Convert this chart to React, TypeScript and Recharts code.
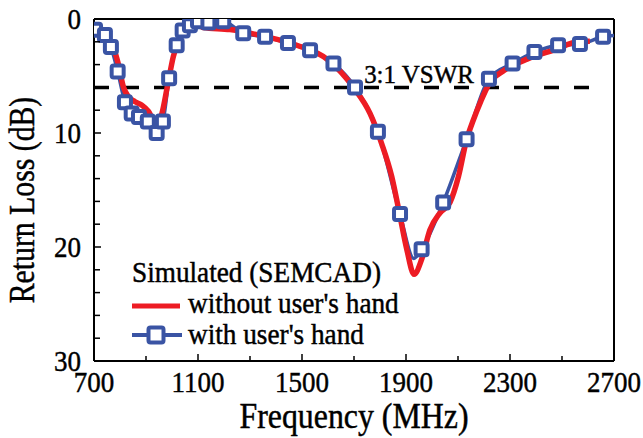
import React from "react";
import {
  ComposedChart,
  Line,
  XAxis,
  YAxis,
  ReferenceLine,
  ReferenceDot,
} from "recharts";

const RED = "#ED1C24";
const BLUE = "#3A54A4";
const FONT = "'Liberation Serif', 'Times New Roman', Times, serif";

// frequency axis (MHz)
const freqTicks = [700, 900, 1100, 1300, 1500, 1700, 1900, 2100, 2300, 2500, 2700];
// return loss axis (dB), drawn downward
const lossTicks = [0, 2, 4, 6, 8, 10, 12, 14, 16, 18, 20, 22, 24, 26, 28, 30];

const vswrLimit = 6;

// simulated without the hand
const withoutHand = [
  { freq: 700, loss: 0.8 },
  { freq: 742, loss: 1.28 },
  { freq: 774, loss: 2.45 },
  { freq: 793, loss: 3.9 },
  { freq: 813, loss: 5.95 },
  { freq: 832, loss: 6.8 },
  { freq: 858, loss: 7.26 },
  { freq: 883, loss: 7.55 },
  { freq: 909, loss: 8.1 },
  { freq: 941, loss: 9.3 },
  { freq: 960, loss: 8.4 },
  { freq: 982, loss: 5.95 },
  { freq: 1005, loss: 3.3 },
  { freq: 1031, loss: 1.57 },
  { freq: 1063, loss: 0.7 },
  { freq: 1101, loss: 0.46 },
  { freq: 1120, loss: 0.75 },
  { freq: 1223, loss: 0.93 },
  { freq: 1351, loss: 1.5 },
  { freq: 1480, loss: 2.3 },
  { freq: 1601, loss: 3.6 },
  { freq: 1698, loss: 6.0 },
  { freq: 1762, loss: 8.3 },
  { freq: 1806, loss: 10.9 },
  { freq: 1845, loss: 13.8 },
  { freq: 1877, loss: 17.3 },
  { freq: 1903, loss: 20.2 },
  { freq: 1931, loss: 22.4 },
  { freq: 1960, loss: 21.1 },
  { freq: 1992, loss: 18.5 },
  { freq: 2031, loss: 17.0 },
  { freq: 2069, loss: 16.1 },
  { freq: 2102, loss: 13.8 },
  { freq: 2133, loss: 10.6 },
  { freq: 2159, loss: 8.86 },
  { freq: 2188, loss: 7.2 },
  { freq: 2219, loss: 5.7 },
  { freq: 2278, loss: 4.5 },
  { freq: 2368, loss: 3.5 },
  { freq: 2471, loss: 2.7 },
  { freq: 2561, loss: 2.0 },
  { freq: 2607, loss: 1.95 },
];

// simulated with the hand: sample points shown as squares
const withHandMarkers = [
  { freq: 704, loss: 0.95 },
  { freq: 742, loss: 1.4 },
  { freq: 765, loss: 2.45 },
  { freq: 791, loss: 4.6 },
  { freq: 819, loss: 7.3 },
  { freq: 845, loss: 8.3 },
  { freq: 873, loss: 8.6 },
  { freq: 907, loss: 9.0 },
  { freq: 941, loss: 10.0 },
  { freq: 965, loss: 9.0 },
  { freq: 989, loss: 5.2 },
  { freq: 1018, loss: 2.3 },
  { freq: 1041, loss: 1.0 },
  { freq: 1069, loss: 0.55 },
  { freq: 1100, loss: 0.2 },
  { freq: 1140, loss: 0.3 },
  { freq: 1197, loss: 0.2 },
  { freq: 1274, loss: 1.25 },
  { freq: 1358, loss: 1.55 },
  { freq: 1446, loss: 2.1 },
  { freq: 1531, loss: 2.75 },
  { freq: 1621, loss: 3.9 },
  { freq: 1704, loss: 6.0 },
  { freq: 1792, loss: 9.9 },
  { freq: 1877, loss: 17.1 },
  { freq: 1960, loss: 20.2 },
  { freq: 2043, loss: 16.1 },
  { freq: 2133, loss: 10.55 },
  { freq: 2219, loss: 5.25 },
  { freq: 2310, loss: 3.9 },
  { freq: 2394, loss: 2.9 },
  { freq: 2485, loss: 2.3 },
  { freq: 2569, loss: 2.2 },
  { freq: 2658, loss: 1.55 },
];

// the with-hand curve between and beyond the squares
const withHandExtra = [
  { freq: 1930, loss: 21.0 },
  { freq: 2700, loss: 1.45 },
];

const withHandCurve = [...withHandMarkers, ...withHandExtra].sort(
  (a, b) => a.freq - b.freq
);

function Serif({ x, y, size, sx = 0.9, anchor = "start", rotate = false, children }: any) {
  return (
    <text
      transform={`translate(${x},${y})${rotate ? " rotate(-90)" : ""} scale(${sx},1)`}
      fontFamily={FONT}
      fontSize={size}
      textAnchor={anchor}
      fill="#000"
      stroke="#000"
      strokeWidth={0.45}
    >
      {children}
    </text>
  );
}

function FreqTick({ x, y, payload }: any) {
  const v = payload.value;
  const major = (v - 700) % 400 === 0;
  return (
    <g>
      <line x1={x} x2={x} y1={y} y2={y - (major ? 7 : 5)} stroke="#000" strokeWidth={1.5} />
      {major && (
        <Serif x={x} y={y + 31} size={30} anchor="middle">
          {v}
        </Serif>
      )}
    </g>
  );
}

function LossTick({ x, y, payload }: any) {
  const v = payload.value;
  const major = v % 10 === 0;
  return (
    <g>
      <line x1={x} x2={x + (major ? 7 : 6)} y1={y} y2={y} stroke="#000" strokeWidth={1.5} />
      {major && (
        <Serif x={x - 13} y={y + 10} size={30} anchor="end">
          {v}
        </Serif>
      )}
    </g>
  );
}

function Square({ cx, cy, side = 12 }: any) {
  if (cx == null || cy == null) return null;
  return (
    <rect
      x={cx - side / 2}
      y={cy - side / 2}
      width={side}
      height={side}
      rx={2}
      fill="#fff"
      stroke={BLUE}
      strokeWidth={4}
    />
  );
}

// series key, laid over the lower left of the plot
function SeriesKey() {
  return (
    <svg
      width={643}
      height={438}
      style={{ position: "absolute", left: 0, top: 0, pointerEvents: "none" }}
    >
      <Serif x={132} y={282} size={29} sx={0.94}>
        Simulated (SEMCAD)
      </Serif>
      <line x1={132} x2={180} y1={306} y2={306} stroke={RED} strokeWidth={5} />
      <Serif x={188} y={313} size={29} sx={0.94}>
        without user's hand
      </Serif>
      <line x1={132} x2={182} y1={335} y2={335} stroke={BLUE} strokeWidth={4} />
      <Square cx={156} cy={335} side={15} />
      <Serif x={188} y={344} size={29} sx={0.94}>
        with user's hand
      </Serif>
    </svg>
  );
}

function VswrLabel({ viewBox }: any) {
  const cx = viewBox.x + viewBox.width / 2;
  return (
    <Serif x={cx} y={viewBox.y - 4} size={26} sx={0.96} anchor="middle">
      3:1 VSWR
    </Serif>
  );
}

export default function App() {
  return (
    <div
      style={{
        position: "absolute",
        left: 0,
        top: 0,
        width: 643,
        height: 438,
        background: "#fff",
      }}
    >
      <ComposedChart
        width={643}
        height={438}
        margin={{ top: 19, right: 29, bottom: 37, left: 54 }}
      >
        <XAxis
          dataKey="freq"
          type="number"
          domain={[700, 2700]}
          ticks={freqTicks}
          interval={0}
          height={40}
          tickSize={0}
          tickMargin={0}
          tick={<FreqTick />}
          axisLine={{ stroke: "#000", strokeWidth: 2 }}
          allowDataOverflow
          label={{
            content: ({ viewBox }: any) => (
              <Serif
                x={viewBox.x + viewBox.width / 2}
                y={viewBox.y + 67}
                size={35}
                sx={0.91}
                anchor="middle"
              >
                Frequency (MHz)
              </Serif>
            ),
          }}
        />
        <YAxis
          dataKey="loss"
          type="number"
          reversed
          domain={[0, 30]}
          ticks={lossTicks}
          interval={0}
          width={40}
          tickSize={0}
          tickMargin={0}
          tick={<LossTick />}
          axisLine={{ stroke: "#000", strokeWidth: 2 }}
          allowDataOverflow
          label={{
            content: ({ viewBox }: any) => (
              <Serif
                x={34}
                y={viewBox.y + viewBox.height / 2 + 10}
                size={35}
                sx={0.85}
                anchor="middle"
                rotate
              >
                Return Loss (dB)
              </Serif>
            ),
          }}
        />
        <ReferenceLine y={0} stroke="#000" strokeWidth={2} />
        <ReferenceLine x={2700} stroke="#000" strokeWidth={2} />
        <ReferenceLine
          segment={[
            { x: 700, y: vswrLimit },
            { x: 2630, y: vswrLimit },
          ]}
          stroke="#000"
          strokeWidth={3.5}
          strokeDasharray="15 15"
        />
        <ReferenceDot
          x={1950}
          y={vswrLimit}
          r={0}
          fill="none"
          stroke="none"
          label={<VswrLabel />}
        />
        <Line
          data={withHandCurve}
          dataKey="loss"
          type="monotone"
          stroke={BLUE}
          strokeWidth={3.5}
          dot={false}
          activeDot={false}
          isAnimationActive={false}
        />
        <Line
          data={withHandMarkers}
          dataKey="loss"
          stroke="none"
          dot={<Square />}
          activeDot={false}
          isAnimationActive={false}
        />
        <Line
          data={withoutHand}
          dataKey="loss"
          type="monotone"
          stroke={RED}
          strokeWidth={5.5}
          dot={false}
          activeDot={false}
          isAnimationActive={false}
        />
      </ComposedChart>
      <SeriesKey />
    </div>
  );
}
